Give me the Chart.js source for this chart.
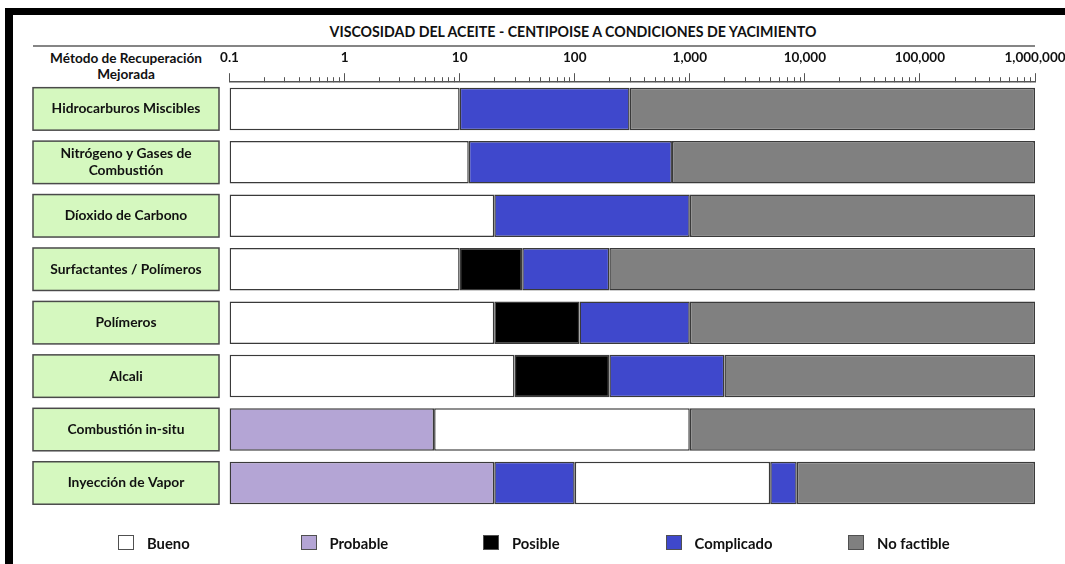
<!DOCTYPE html>
<html lang="es">
<head>
  <meta charset="UTF-8" />
  <title>Viscosidad del aceite - Métodos de recuperación mejorada</title>
  <script src="https://cdn.jsdelivr.net/npm/chart.js"></script>
  <style>
    body {
      margin: 0;
      background: #fff;
      font-family: 'Lato', sans-serif;
      color: #111;
    }

    .page {
      position: relative;
      width: 1065px;
      height: 564px;
      overflow: hidden;
    }

    .frame-top {
      position: absolute;
      left: 5px; top: 8px;
      width: 1060px; height: 7px;
      background: #000;
    }

    .frame-left {
      position: absolute;
      left: 5px; top: 8px;
      width: 8px; height: 556px;
      background: #000;
    }

    .title {
      position: absolute;
      left: 273px; width: 600px;
      top: 24px;
      text-align: center;
      white-space: nowrap;
      font-weight: bold;
      font-size: 14.2px;
      line-height: 16px;
    }

    .title-rule {
      position: absolute;
      left: 33px; top: 45px;
      width: 1002px; height: 2px;
      background: #858585;
    }

    .method {
      position: absolute;
      left: 23px; width: 206px;
      top: 50px;
      text-align: center;
      white-space: nowrap;
      font-weight: bold;
      font-size: 13.6px;
      line-height: 16px;
    }

    .chart-box {
      position: absolute;
      left: 0; top: 0;
      width: 1065px; height: 564px;
    }

    .legend {
      position: absolute;
      left: 118px; top: 534px;
      display: flex;
    }

    .legend-item {
      width: 182.5px;
      height: 17px;
      display: flex;
      align-items: center;
      font-weight: bold;
      font-size: 14.8px;
    }

    .swatch {
      width: 14px; height: 13px;
      border: 1.5px solid #505050;
      margin-right: 13px;
      flex: none;
    }
  </style>
</head>
<body>
  <div class="page">
    <div class="frame-top"></div>
    <div class="frame-left"></div>
    <div class="title">VISCOSIDAD DEL ACEITE - CENTIPOISE A CONDICIONES DE YACIMIENTO</div>
    <div class="title-rule"></div>
    <div class="method">Método de Recuperación<br>Mejorada</div>
    <div class="chart-box"><canvas id="viscChart"></canvas></div>
    <div class="legend" id="legend"></div>
  </div>

  <script>
    // métodos (filas)
    const methods = [
      'Hidrocarburos Miscibles',
      ['Nitrógeno y Gases de', 'Combustión'],
      'Díoxido de Carbono',
      'Surfactantes / Polímeros',
      'Polímeros',
      'Alcali',
      'Combustión in-situ',
      'Inyección de Vapor'
    ];

    // eje de viscosidad (cp)
    const tickValues = [0.1, 1, 10, 100, 1000, 10000, 100000, 1000000];
    const tickLabels = ['0.1', '1', '10', '100', '1,000', '10,000', '100,000', '1,000,000'];

    // rangos [desde, hasta] por fila
    const bueno      = [[0.1, 10], [0.1, 12], [0.1, 20], [0.1, 10], [0.1, 20], [0.1, 30], [6, 1000], [100, 5000]];
    const probable   = [null, null, null, null, null, null, [0.1, 6], [0.1, 20]];
    const posible    = [null, null, null, [10, 35], [20, 110], [30, 200], null, null];
    const complicado = [[10, 300], [12, 700], [20, 1000], [35, 200], [110, 1000], [200, 2000], null, [20, 100]];
    const complicado2 = [null, null, null, null, null, null, null, [5000, 8500]];
    const noFactible = [[300, 1e6], [700, 1e6], [1000, 1e6], [200, 1e6], [1000, 1e6], [2000, 1e6], [1000, 1e6], [8500, 1e6]];

    const legendLabels = ['Bueno', 'Probable', 'Posible', 'Complicado', 'No factible'];
    const legendColors = ['#ffffff', '#b4a5d5', '#000000', '#3f48cc', '#808080'];

    function seg(label, data, color) {
      return {
        label,
        data,
        backgroundColor: color,
        borderColor: '#3a3a3a',
        borderWidth: 1.5,
        borderSkipped: false,
        grouped: false,
        categoryPercentage: 1,
        barPercentage: 0.795
      };
    }

    // cajas verdes con el nombre del método + marcas menores del eje
    const sideLabels = {
      id: 'sideLabels',
      afterDraw(chart) {
        const { ctx, scales: { x, y } } = chart;
        const bars = chart.getDatasetMeta(chart.data.datasets.length - 1).data;
        ctx.save();
        methods.forEach((name, i) => {
          const cy = y.getPixelForValue(i);
          const h = bars[i].height;
          ctx.fillStyle = '#d5f8bf';
          ctx.fillRect(33, cy - h / 2, 186, h);
          ctx.strokeStyle = '#4a4a4a';
          ctx.lineWidth = 1.5;
          ctx.strokeRect(33, cy - h / 2, 186, h);

          const lines = Array.isArray(name) ? name : [name];
          ctx.fillStyle = '#111';
          ctx.font = 'bold 13.8px Lato';
          ctx.textAlign = 'center';
          ctx.textBaseline = 'middle';
          lines.forEach((ln, k) => {
            ctx.fillText(ln, 126, cy + (k - (lines.length - 1) / 2) * 17);
          });
        });

        // minor ticks 2..9 en cada década
        const axisY = chart.chartArea.top;
        ctx.strokeStyle = '#555';
        ctx.lineWidth = 1;
        for (let d = 0.1; d < 1e6; d *= 10) {
          for (let m = 2; m <= 9; m++) {
            const px = Math.round(x.getPixelForValue(d * m)) + 0.5;
            ctx.beginPath();
            ctx.moveTo(px, axisY);
            ctx.lineTo(px, axisY - 5);
            ctx.stroke();
          }
        }
        ctx.restore();
      }
    };

    new Chart(document.getElementById('viscChart'), {
      type: 'bar',
      data: {
        labels: methods,
        datasets: [
          seg('Bueno', bueno, legendColors[0]),
          seg('Probable', probable, legendColors[1]),
          seg('Posible', posible, legendColors[2]),
          seg('Complicado', complicado, legendColors[3]),
          seg('Complicado', complicado2, legendColors[3]),
          seg('No factible', noFactible, legendColors[4])
        ]
      },
      options: {
        indexAxis: 'y',
        responsive: true,
        maintainAspectRatio: false,
        animation: false,
        layout: {
          padding: { left: 229.5, right: 30, top: 42.2, bottom: 54.3 }
        },
        plugins: {
          legend: { display: false },
          tooltip: { enabled: false }
        },
        scales: {
          x: {
            type: 'logarithmic',
            position: 'top',
            min: 0.1,
            max: 1e6,
            afterBuildTicks: s => { s.ticks = tickValues.map(v => ({ value: v, major: true })); },
            afterFit: s => { s.height = 40; s.paddingLeft = 0; s.paddingRight = 0; },
            ticks: {
              autoSkip: false,
              maxRotation: 0,
              padding: 7,
              color: '#111',
              font: { family: 'Lato', size: 13.5, weight: 'bold' },
              callback: (v, i) => tickLabels[i]
            },
            grid: {
              drawOnChartArea: false,
              drawTicks: true,
              tickLength: 9,
              color: '#555',
              lineWidth: 1
            },
            border: { display: true, color: '#555', width: 1.5 }
          },
          y: {
            type: 'category',
            display: false
          }
        }
      },
      plugins: [sideLabels]
    });

    // leyenda
    const legend = document.getElementById('legend');
    legendLabels.forEach((lbl, i) => {
      const item = document.createElement('div');
      item.className = 'legend-item';
      const sw = document.createElement('span');
      sw.className = 'swatch';
      sw.style.background = legendColors[i];
      item.appendChild(sw);
      item.appendChild(document.createTextNode(lbl));
      legend.appendChild(item);
    });
  </script>
</body>
</html>
